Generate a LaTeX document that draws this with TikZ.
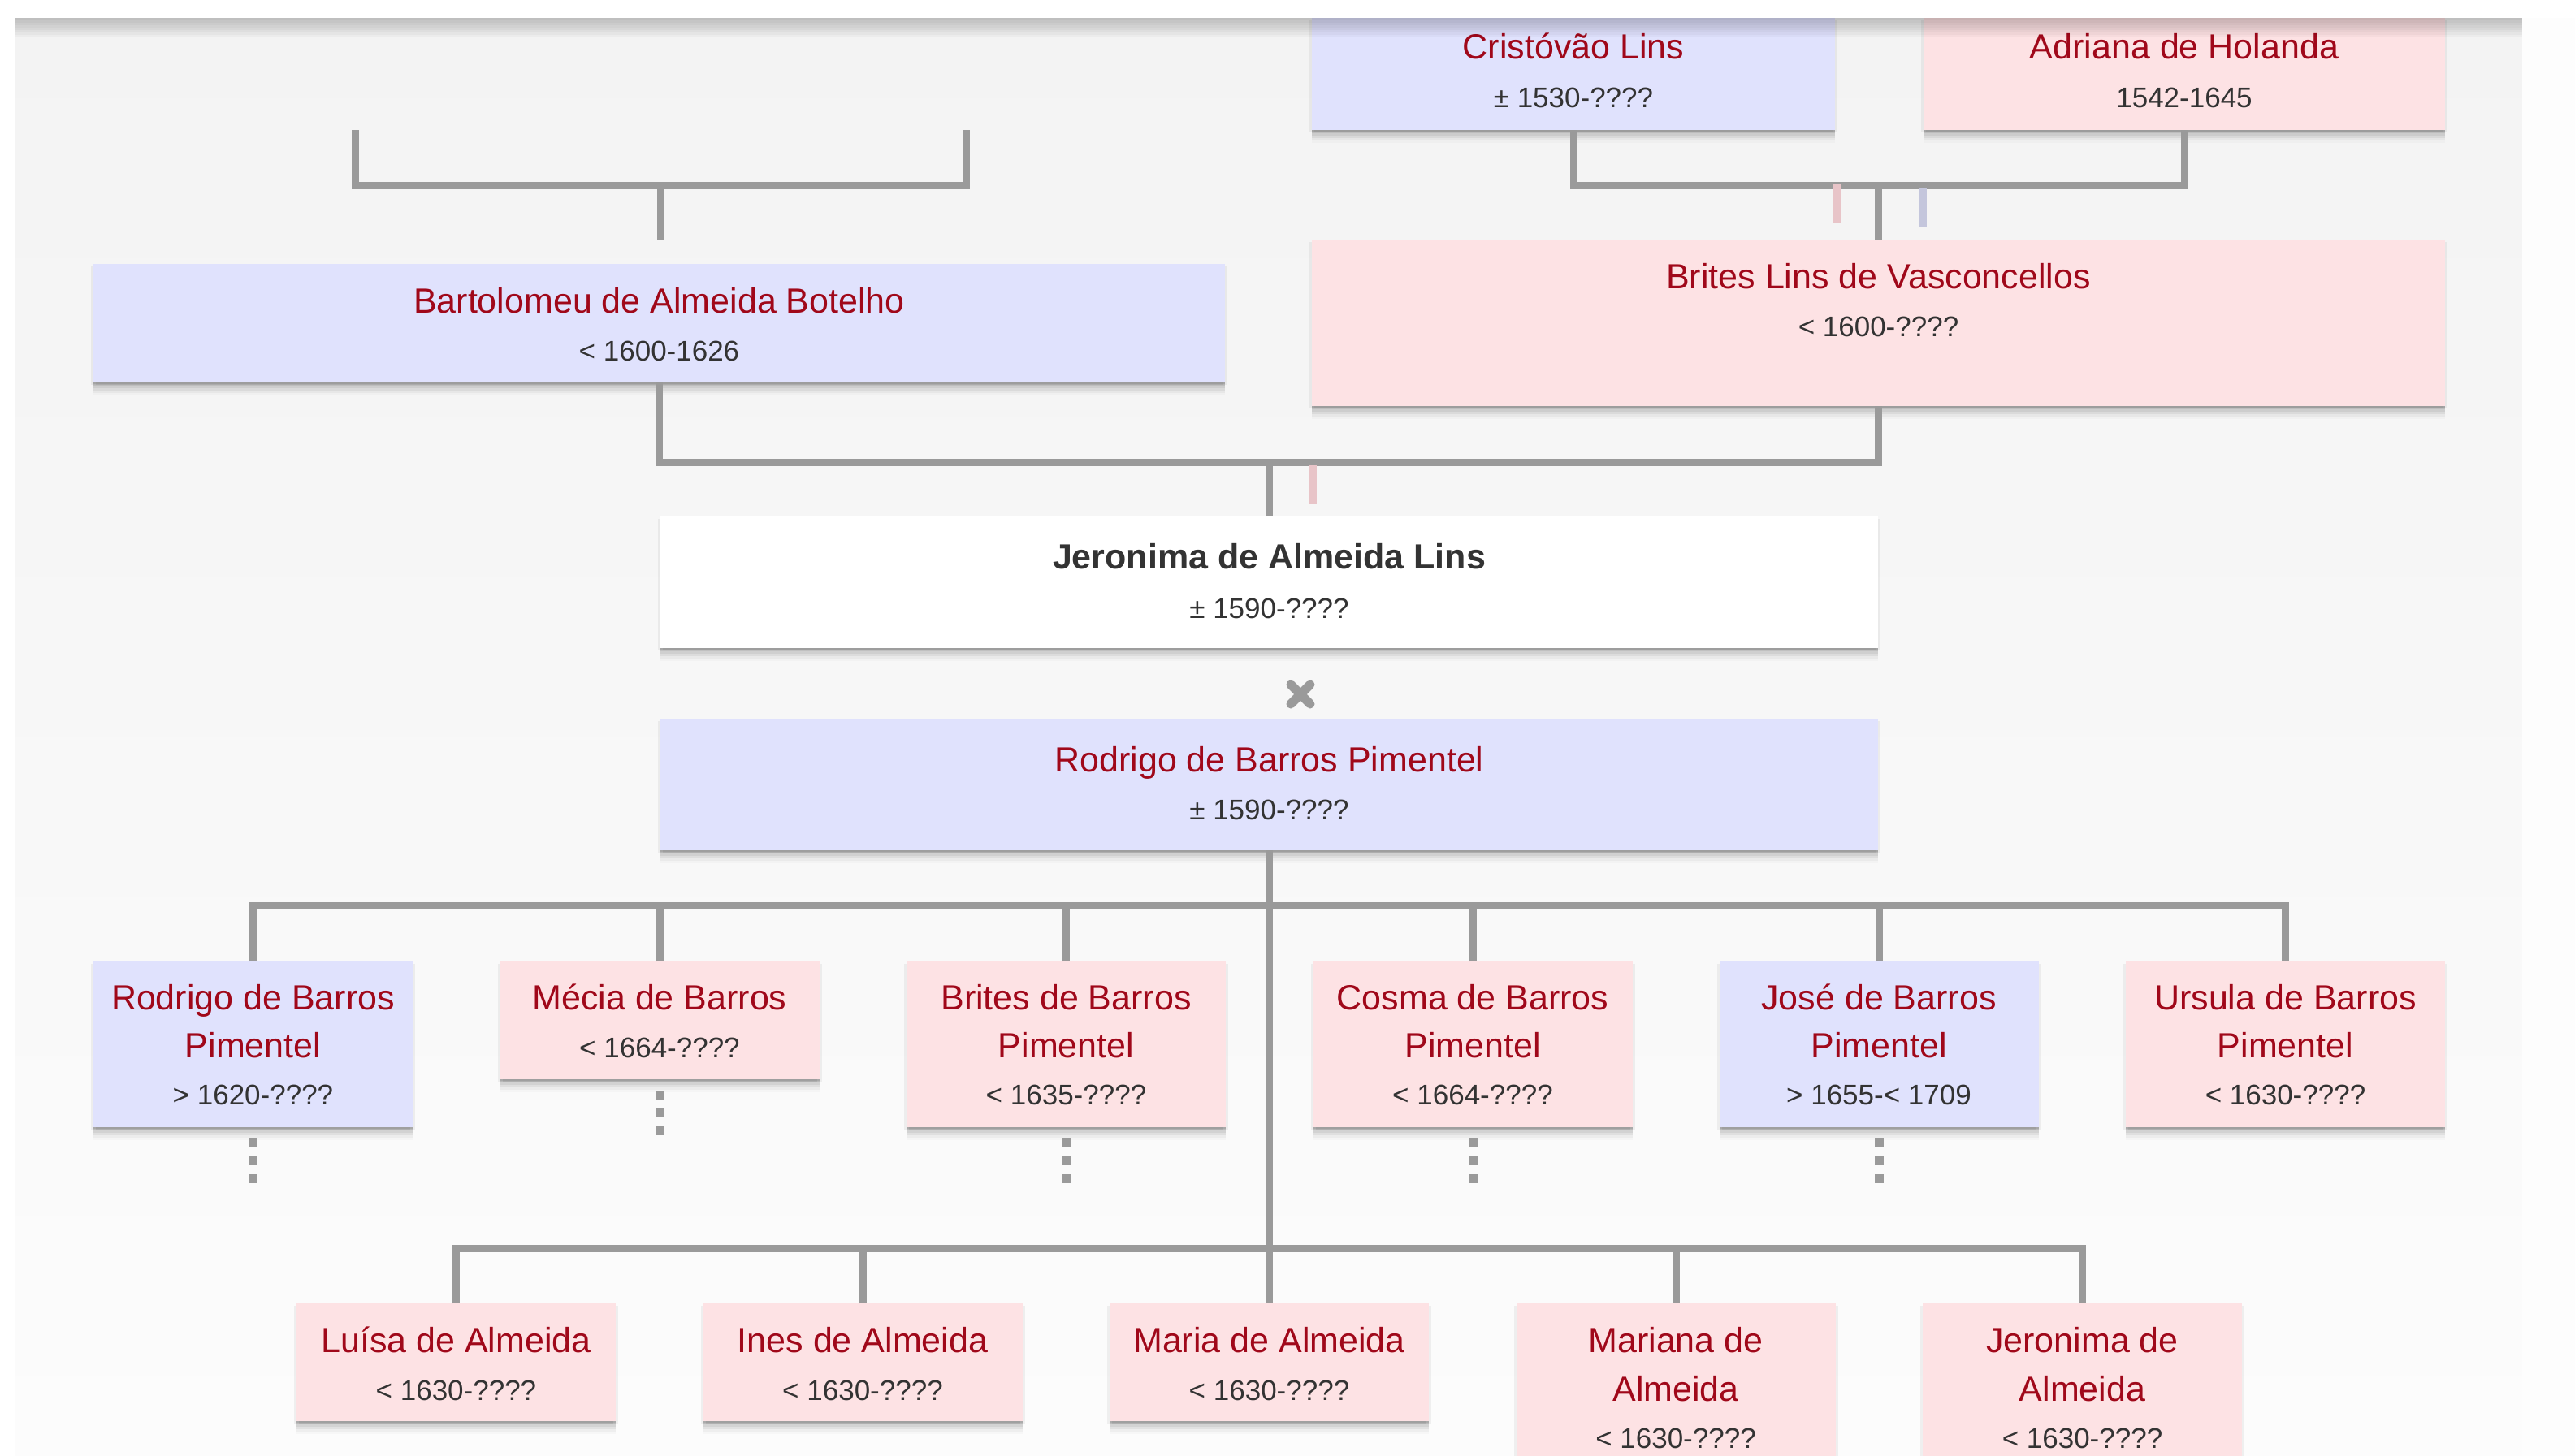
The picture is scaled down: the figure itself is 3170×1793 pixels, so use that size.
\documentclass[tikz,border=0pt]{standalone}
\usepackage{fontspec}
\setmainfont{Liberation Sans}
\usetikzlibrary{shadows}
\definecolor{malec}{HTML}{E0E2FD}
\definecolor{femalec}{HTML}{FDE2E4}
\definecolor{namec}{HTML}{A0081A}
\definecolor{datec}{HTML}{333333}
\definecolor{lineg}{HTML}{9A9A9A}
\definecolor{tickpink}{HTML}{E8C4C8}
\definecolor{ticklav}{HTML}{C4C6DC}
\definecolor{paneltop}{HTML}{F3F3F3}
\definecolor{panelbot}{HTML}{FCFCFC}
\definecolor{sidewhite}{HTML}{FDFDFD}
\begin{document}
\begin{tikzpicture}[x=1pt,y=-1pt,
  conn/.style={draw=lineg, line width=9pt, line join=miter},
  morekids/.style={draw=lineg, line width=11pt, dash pattern=on 11pt off 11pt},
  pinktick/.style={draw=tickpink, line width=9pt},
  lavtick/.style={draw=ticklav, line width=9pt},
  xmark/.style={draw=lineg, line width=11pt, line cap=round},
  box/.style={rectangle, inner sep=0pt, outer sep=0pt,
    general shadow={fill=black, opacity=0.05, shadow xshift=3pt, shadow yshift=-3pt},
    general shadow={fill=black, opacity=0.05, shadow xshift=-3pt, shadow yshift=-3pt},
    general shadow={fill=black, opacity=0.08, shadow yshift=-2pt},
    general shadow={fill=black, opacity=0.07, shadow yshift=-4pt},
    general shadow={fill=black, opacity=0.06, shadow yshift=-7pt},
    general shadow={fill=black, opacity=0.05, shadow yshift=-10pt},
    general shadow={fill=black, opacity=0.035, shadow yshift=-13pt},
    general shadow={fill=black, opacity=0.02, shadow yshift=-16pt}},
  male/.style={box, fill=malec},
  female/.style={box, fill=femalec},
  focus/.style={box, fill=white},
  kid/.style={minimum width=393pt},
  nm/.style={text=namec, font=\fontsize{43}{50}\selectfont, anchor=base, inner sep=0pt},
  nmfocus/.style={text=datec, font=\fontsize{43}{50}\selectfont\bfseries, anchor=base, inner sep=0pt},
  dt/.style={text=datec, font=\fontsize{35}{42}\selectfont, anchor=base, inner sep=0pt}
]
\useasboundingbox (0,0) rectangle (3170,1793);
\fill[white] (0,0) rectangle (3170,1793);
\shade[top color=paneltop, bottom color=panelbot] (18,22) rectangle (3105,1793);
\fill[sidewhite] (3105,22) rectangle (3170,1793);

% ---------- boxes ----------
\node[male,   minimum width=644pt,  minimum height=138pt] (cris) at (1937,91) {};
\node[female, minimum width=642pt,  minimum height=138pt] (adri) at (2689,91) {};
\node[female, minimum width=1395pt, minimum height=205pt] (brites) at (2312.5,397.5) {};
\node[male,   minimum width=1393pt, minimum height=146pt] (bart) at (811.5,398) {};
\node[focus,  minimum width=1499pt, minimum height=162pt] (jer) at (1562.5,717) {};
\node[male,   minimum width=1499pt, minimum height=162pt] (rod) at (1562.5,966) {};

\node[male,   kid, minimum height=204pt] (c1) at (311.5,1286) {};
\node[female, kid, minimum height=145pt] (c2) at (812,1256.5) {};
\node[female, kid, minimum height=204pt] (c3) at (1312.5,1286) {};
\node[female, kid, minimum height=204pt] (c4) at (1813,1286) {};
\node[male,   kid, minimum height=204pt] (c5) at (2313,1286) {};
\node[female, kid, minimum height=204pt] (c6) at (2813.5,1286) {};

\node[female, kid, minimum height=145pt] (d1) at (561.5,1677.5) {};
\node[female, kid, minimum height=145pt] (d2) at (1062,1677.5) {};
\node[female, kid, minimum height=145pt] (d3) at (1562.5,1677.5) {};
\node[female, kid, minimum height=188pt] (d4) at (2063,1699) {};
\node[female, kid, minimum height=188pt] (d5) at (2563.5,1699) {};

% ---------- connectors ----------
\coordinate (lp1) at (437,160);
\coordinate (lp2) at (1189,160);
\coordinate (lbar) at (813,228);
\coordinate (lrow) at (813,295);
\draw[conn] (lp1) |- (lbar) -| (lp2);
\draw[conn] (lbar) -- (lrow);

\coordinate (bar0) at (2312.5,228);
\draw[conn] (cris.south) |- (bar0) -| (adri.south);
\draw[conn] (bar0) -- (brites.north);

\coordinate (bar2) at (1562.5,569);
\draw[conn] (bart.south) |- (bar2) -| (brites.south);
\draw[conn] (bar2) -- (jer.north);

\draw[conn] (rod.south) -- (d3.north);
\coordinate (bar3) at (1562.5,1115);
\draw[conn] (c1.north) |- (bar3) -| (c6.north);
\foreach \c in {c2,c3,c4,c5} \draw[conn] (\c.north) -- (\c.north |- bar3);
\coordinate (bar4) at (1562.5,1537);
\draw[conn] (d1.north) |- (bar4) -| (d5.north);
\foreach \c in {d2,d4} \draw[conn] (\c.north) -- (\c.north |- bar4);

\foreach \c in {c1,c2,c3,c4,c5} \draw[morekids] (\c.south) ++(0,14) -- ++(0,55);

\draw[pinktick] (2261,227) -- (2261,274);
\draw[lavtick] (2367,232) -- (2367,280);
\draw[pinktick] (1616,573) -- (1616,621);

\coordinate (wed) at (1601,855);
\draw[xmark] (wed) ++(-12,-12) -- ++(24,24);
\draw[xmark] (wed) ++(-12,12) -- ++(24,-24);

% ---------- texts ----------
\node[nm] (n-cris) at (1937,73) {Cristóvão Lins};
\node[dt] (t-cris) at (1937,132.5) {± 1530-????};
\node[nm] (n-adri) at (2689,73) {Adriana de Holanda};
\node[dt] (t-adri) at (2689,132.5) {1542-1645};
\node[nm] (n-brites) at (2312.5,355) {Brites Lins de Vasconcellos};
\node[dt] (t-brites) at (2312.5,414.5) {< 1600-????};
\node[nm] (n-bart) at (811.5,385) {Bartolomeu de Almeida Botelho};
\node[dt] (t-bart) at (811.5,444.5) {< 1600-1626};
\node[nmfocus] (n-jer) at (1562.5,700) {Jeronima de Almeida Lins};
\node[dt] (t-jer) at (1562.5,761.5) {± 1590-????};
\node[nm] (n-rod) at (1562.5,950) {Rodrigo de Barros Pimentel};
\node[dt] (t-rod) at (1562.5,1009.5) {± 1590-????};

\node[nm] (n-c1a) at (311.5,1243) {Rodrigo de Barros};
\node[nm] (n-c1b) at (311.5,1302) {Pimentel};
\node[dt] (t-c1) at (311.5,1360.5) {> 1620-????};
\node[nm] (n-c2) at (812,1243) {Mécia de Barros};
\node[dt] (t-c2) at (812,1302.5) {< 1664-????};
\node[nm] (n-c3a) at (1312.5,1243) {Brites de Barros};
\node[nm] (n-c3b) at (1312.5,1302) {Pimentel};
\node[dt] (t-c3) at (1312.5,1360.5) {< 1635-????};
\node[nm] (n-c4a) at (1813,1243) {Cosma de Barros};
\node[nm] (n-c4b) at (1813,1302) {Pimentel};
\node[dt] (t-c4) at (1813,1360.5) {< 1664-????};
\node[nm] (n-c5a) at (2313,1243) {José de Barros};
\node[nm] (n-c5b) at (2313,1302) {Pimentel};
\node[dt] (t-c5) at (2313,1360.5) {> 1655-< 1709};
\node[nm] (n-c6a) at (2813.5,1243) {Ursula de Barros};
\node[nm] (n-c6b) at (2813.5,1302) {Pimentel};
\node[dt] (t-c6) at (2813.5,1360.5) {< 1630-????};

\node[nm] (n-d1) at (561.5,1665) {Luísa de Almeida};
\node[dt] (t-d1) at (561.5,1724.5) {< 1630-????};
\node[nm] (n-d2) at (1062,1665) {Ines de Almeida};
\node[dt] (t-d2) at (1062,1724.5) {< 1630-????};
\node[nm] (n-d3) at (1562.5,1665) {Maria de Almeida};
\node[dt] (t-d3) at (1562.5,1724.5) {< 1630-????};
\node[nm] (n-d4a) at (2063,1665) {Mariana de};
\node[nm] (n-d4b) at (2063,1725) {Almeida};
\node[dt] (t-d4) at (2063,1783.5) {< 1630-????};
\node[nm] (n-d5a) at (2563.5,1665) {Jeronima de};
\node[nm] (n-d5b) at (2563.5,1725) {Almeida};
\node[dt] (t-d5) at (2563.5,1783.5) {< 1630-????};

% ---------- top edge of the panel ----------
\fill[white] (0,0) rectangle (3170,22);
\foreach \i in {1,...,8} \fill[black, opacity=0.028] (18,22) rectangle (3105,{22+3*\i});
\end{tikzpicture}
\end{document}
